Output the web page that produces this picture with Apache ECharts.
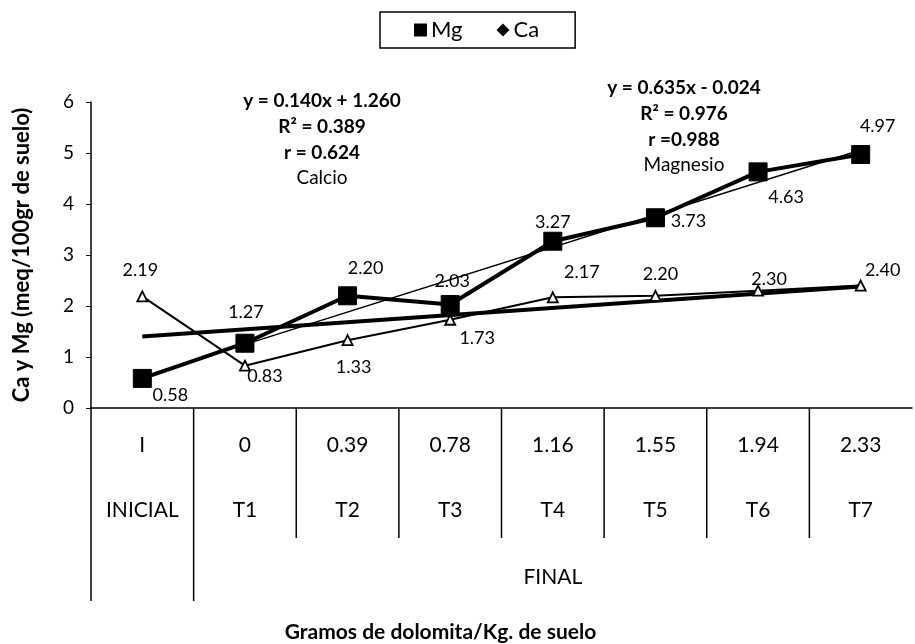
<!DOCTYPE html>
<html>
<head>
<meta charset="utf-8">
<script src="https://cdn.jsdelivr.net/npm/echarts@6/dist/echarts.min.js"></script>
<style>
html,body{margin:0;padding:0;background:#fff;}
#c{width:915px;height:644px;}
</style>
</head>
<body>
<div id="c"></div>
<script>
// ---- data ----
const doseLabels = ['I', '0', '0.39', '0.78', '1.16', '1.55', '1.94', '2.33'];
const treatments = ['INICIAL', 'T1', 'T2', 'T3', 'T4', 'T5', 'T6', 'T7'];
const groupLabel = 'FINAL';
const mgValues = [0.58, 1.27, 2.20, 2.03, 3.27, 3.73, 4.63, 4.97];
const caValues = [2.19, 0.83, 1.33, 1.73, 2.17, 2.20, 2.30, 2.40];
// trend line endpoints (first and last category)
const mgTrend = [0.61, 5.06];
const caTrend = [1.40, 2.38];
const yTicks = [0, 1, 2, 3, 4, 5, 6];

// label offsets (styling, not data)
const mgLabelOffset = [[28, 17], [1, -31], [18, -28], [2, -23], [0, -19], [33, 3], [28, 25], [17, -28]];
const caLabelOffset = [[-2, -26], [20, 11], [6, 27], [27, 18], [29, -25], [5, -22], [11, -12], [22, -15]];

const FONT = 'Lato, "Open Sans", sans-serif';
const chart = echarts.init(document.getElementById('c'));
const cats = treatments.map((t, i) => doseLabels[i] + '\n' + t);
const last = cats.length - 1;

function pts(vals, offs) {
  return vals.map((v, i) => ({
    value: v,
    label: { show: true, position: 'inside', offset: offs[i], formatter: v.toFixed(2),
      color: '#000', fontSize: 18, fontFamily: FONT }
  }));
}

const option = {
  animation: false,
  backgroundColor: '#fff',
  legend: {
    top: 12, left: 380,
    padding: [7, 36, 7, 34],
    borderColor: '#000', borderWidth: 1.5,
    itemGap: 34, itemWidth: 13, itemHeight: 13,
    textStyle: { fontSize: 22, fontFamily: FONT, color: '#000', padding: [0, 0, 0, -1] },
    data: [
      { name: 'Mg', icon: 'rect', itemStyle: { color: '#000', borderWidth: 0 } },
      { name: 'Ca', icon: 'diamond', itemStyle: { color: '#000', borderColor: '#000', borderWidth: 0 } }
    ]
  },
  grid: { left: 91, right: 3, top: 102, bottom: 236, containLabel: false },
  xAxis: {
    type: 'category',
    data: cats,
    boundaryGap: true,
    axisLine: { lineStyle: { color: '#000', width: 1.5 } },
    axisTick: { show: false },
    axisLabel: { margin: 5, fontSize: 21, lineHeight: 65, color: '#000', fontFamily: FONT, interval: 0 },
    name: 'Gramos de dolomita/Kg. de suelo',
    nameLocation: 'middle',
    nameGap: 214,
    nameTextStyle: { fontSize: 21, fontWeight: 'bold', color: '#000', fontFamily: FONT, padding: [0, 0, 0, -122] }
  },
  yAxis: {
    type: 'value', min: 0, max: 6, interval: 1,
    axisLine: { show: true, lineStyle: { color: '#000', width: 1.5 } },
    axisTick: { show: true, length: 5, lineStyle: { color: '#000' } },
    splitLine: { show: false },
    axisLabel: { fontSize: 19, color: '#000', fontFamily: FONT, margin: 17,
      formatter: v => yTicks.includes(v) ? String(v) : '' },
    name: 'Ca y Mg (meq/100gr de suelo)',
    nameLocation: 'middle',
    nameGap: 58,
    nameTextStyle: { fontSize: 22, fontWeight: 'bold', color: '#000', fontFamily: FONT, padding: [0, 0, 0, 0] }
  },
  series: [
    {
      name: 'Ca trend', type: 'line', z: 3,
      data: [[0, caTrend[0]], [last, caTrend[1]]],
      symbol: 'none', lineStyle: { color: '#000', width: 4 }, silent: true
    },
    {
      name: 'Mg trend', type: 'line', z: 3,
      data: [[0, mgTrend[0]], [last, mgTrend[1]]],
      symbol: 'none', lineStyle: { color: '#000', width: 1.5 }, silent: true
    },
    {
      name: 'Ca', type: 'line', z: 4,
      data: pts(caValues, caLabelOffset),
      symbol: 'triangle', symbolSize: 10,
      itemStyle: { color: '#fff', borderColor: '#000', borderWidth: 1.8 },
      lineStyle: { color: '#000', width: 2 }
    },
    {
      name: 'Mg', type: 'line', z: 5,
      data: pts(mgValues, mgLabelOffset),
      symbol: 'rect', symbolSize: 18,
      itemStyle: { color: '#000', borderColor: '#000' },
      lineStyle: { color: '#000', width: 4 }
    }
  ]
};
chart.setOption(option);

// ---- table structure below the x axis, derived from the category scale ----
const y0 = chart.convertToPixel({ yAxisIndex: 0 }, 0);
const xs = cats.map((c, i) => chart.convertToPixel({ xAxisIndex: 0 }, i));
const step = xs[1] - xs[0];
const bounds = xs.map(x => x - step / 2);
const g = [];
bounds.forEach((bx, i) => {
  const bottom = (i <= 1) ? y0 + 193 : y0 + 130;
  g.push({ type: 'line', shape: { x1: bx, y1: y0, x2: bx, y2: bottom },
    style: { stroke: '#000', lineWidth: 1.5 }, silent: true });
});
g.push({ type: 'text', x: (bounds[1] + xs[last] + step / 2) / 2, y: y0 + 169,
  style: { text: groupLabel, font: '21px ' + FONT, fill: '#000', align: 'center', verticalAlign: 'middle' } });

// ---- annotations ----
function block(cx, cy, lines) {
  lines.forEach((l, i) => {
    g.push({ type: 'text', x: cx, y: cy + i * 25.7,
      style: { text: l[0], font: (l[1] ? 'bold ' : '') + '19px ' + FONT, fill: '#000', align: 'center', verticalAlign: 'middle' } });
  });
}
block(322, 101, [['y = 0.140x + 1.260', 1], ['R² = 0.389', 1], ['r = 0.624', 1], ['Calcio', 0]]);
block(684, 88, [['y = 0.635x - 0.024', 1], ['R² = 0.976', 1], ['r =0.988', 1], ['Magnesio', 0]]);

chart.setOption({ graphic: g });
</script>
</body>
</html>
